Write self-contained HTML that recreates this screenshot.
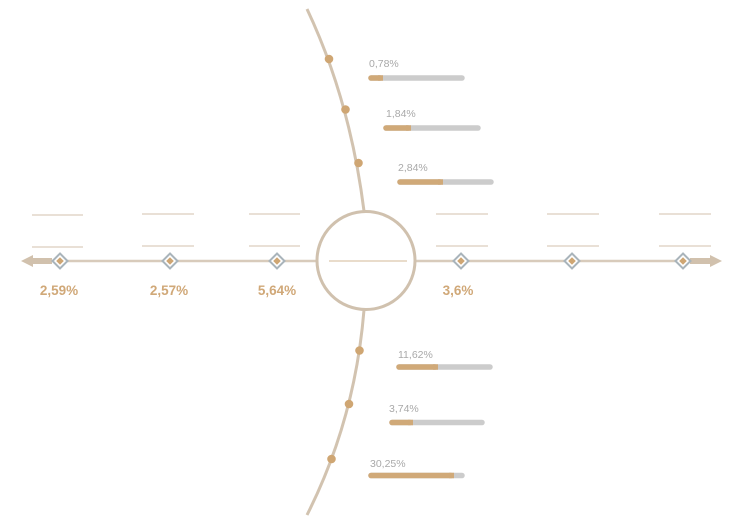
<!DOCTYPE html>
<html><head><meta charset="utf-8"><style>
html,body{margin:0;padding:0;background:#fff;}
svg{display:block;}
text{font-family:"Liberation Sans",sans-serif;}
</style></head><body>
<svg width="733" height="527" viewBox="0 0 733 527" xmlns="http://www.w3.org/2000/svg">
<!-- spine curves -->
<path d="M307,9 Q350,100 364,211" fill="none" stroke="#d2c3b0" stroke-width="3"/>
<path d="M364,310 Q355,420 307,515" fill="none" stroke="#d2c3b0" stroke-width="3"/>
<!-- horizontal axis -->
<line x1="40" y1="261" x2="316" y2="261" stroke="#d8cbbb" stroke-width="2.5"/>
<line x1="416" y1="261" x2="700" y2="261" stroke="#d8cbbb" stroke-width="2.5"/>
<!-- left arrow -->
<rect x="30" y="258" width="22" height="6" fill="#d1c1ad"/>
<polygon points="21,261 33,255 33,267" fill="#d1c1ad"/>
<!-- right arrow -->
<rect x="690" y="258" width="22" height="6" fill="#d1c1ad"/>
<polygon points="722,261 710,255 710,267" fill="#d1c1ad"/>
<!-- circle -->
<circle cx="366" cy="260.5" r="49" fill="#fff" stroke="#d0c1ae" stroke-width="3"/>
<line x1="329" y1="261" x2="407" y2="261" stroke="#dcc6ac" stroke-width="1.2"/>
<!-- placeholder lines -->
<g stroke="#dccdbd" stroke-width="1.2">
<line x1="32" y1="215" x2="83" y2="215"/><line x1="32" y1="247" x2="83" y2="247"/>
<line x1="142" y1="214" x2="194" y2="214"/><line x1="142" y1="246" x2="194" y2="246"/>
<line x1="249" y1="214" x2="300" y2="214"/><line x1="249" y1="246" x2="300" y2="246"/>
<line x1="436" y1="214" x2="488" y2="214"/><line x1="436" y1="246" x2="488" y2="246"/>
<line x1="547" y1="214" x2="599" y2="214"/><line x1="547" y1="246" x2="599" y2="246"/>
<line x1="659" y1="214" x2="711" y2="214"/><line x1="659" y1="246" x2="711" y2="246"/>
</g>
<!-- diamonds -->
<g>
<g transform="translate(60,261)"><polygon points="0,-7.5 7.5,0 0,7.5 -7.5,0" fill="#fff" stroke="#a9b4bb" stroke-width="2"/><polygon points="0,-3.8 3.8,0 0,3.8 -3.8,0" fill="#cfa673"/></g>
<g transform="translate(170,261)"><polygon points="0,-7.5 7.5,0 0,7.5 -7.5,0" fill="#fff" stroke="#a9b4bb" stroke-width="2"/><polygon points="0,-3.8 3.8,0 0,3.8 -3.8,0" fill="#cfa673"/></g>
<g transform="translate(277,261)"><polygon points="0,-7.5 7.5,0 0,7.5 -7.5,0" fill="#fff" stroke="#a9b4bb" stroke-width="2"/><polygon points="0,-3.8 3.8,0 0,3.8 -3.8,0" fill="#cfa673"/></g>
<g transform="translate(461,261)"><polygon points="0,-7.5 7.5,0 0,7.5 -7.5,0" fill="#fff" stroke="#a9b4bb" stroke-width="2"/><polygon points="0,-3.8 3.8,0 0,3.8 -3.8,0" fill="#cfa673"/></g>
<g transform="translate(572,261)"><polygon points="0,-7.5 7.5,0 0,7.5 -7.5,0" fill="#fff" stroke="#a9b4bb" stroke-width="2"/><polygon points="0,-3.8 3.8,0 0,3.8 -3.8,0" fill="#cfa673"/></g>
<g transform="translate(683,261)"><polygon points="0,-7.5 7.5,0 0,7.5 -7.5,0" fill="#fff" stroke="#a9b4bb" stroke-width="2"/><polygon points="0,-3.8 3.8,0 0,3.8 -3.8,0" fill="#cfa673"/></g>
</g>
<!-- axis labels -->
<g font-size="13.5" font-weight="bold" fill="#d0a878" text-anchor="middle">
<text x="59" y="295">2,59%</text>
<text x="169" y="295">2,57%</text>
<text x="277" y="295">5,64%</text>
<text x="458" y="295">3,6%</text>
</g>
<!-- dots on spine -->
<g fill="#cfa673">
<circle cx="329" cy="59" r="4.3"/>
<circle cx="345.5" cy="109.5" r="4.3"/>
<circle cx="358.5" cy="163" r="4.3"/>
<circle cx="359.5" cy="350.5" r="4.3"/>
<circle cx="349" cy="404" r="4.3"/>
<circle cx="331.5" cy="459" r="4.3"/>
</g>
<!-- bars -->
<g stroke-width="5.5">
<line x1="371" y1="78" x2="462" y2="78" stroke="#cccccc" stroke-linecap="round"/>
<line x1="371" y1="78" x2="380" y2="78" stroke="#d0a978" stroke-linecap="round"/><line x1="378" y1="78" x2="383" y2="78" stroke="#d0a978"/>
<line x1="386" y1="128" x2="478" y2="128" stroke="#cccccc" stroke-linecap="round"/>
<line x1="386" y1="128" x2="408" y2="128" stroke="#d0a978" stroke-linecap="round"/><line x1="406" y1="128" x2="411" y2="128" stroke="#d0a978"/>
<line x1="400" y1="182" x2="491" y2="182" stroke="#cccccc" stroke-linecap="round"/>
<line x1="400" y1="182" x2="440" y2="182" stroke="#d0a978" stroke-linecap="round"/><line x1="438" y1="182" x2="443" y2="182" stroke="#d0a978"/>
<line x1="399" y1="367" x2="490" y2="367" stroke="#cccccc" stroke-linecap="round"/>
<line x1="399" y1="367" x2="435" y2="367" stroke="#d0a978" stroke-linecap="round"/><line x1="433" y1="367" x2="438" y2="367" stroke="#d0a978"/>
<line x1="392" y1="422.5" x2="482" y2="422.5" stroke="#cccccc" stroke-linecap="round"/>
<line x1="392" y1="422.5" x2="410" y2="422.5" stroke="#d0a978" stroke-linecap="round"/><line x1="408" y1="422.5" x2="413" y2="422.5" stroke="#d0a978"/>
<line x1="371" y1="475.5" x2="462" y2="475.5" stroke="#cccccc" stroke-linecap="round"/>
<line x1="371" y1="475.5" x2="451" y2="475.5" stroke="#d0a978" stroke-linecap="round"/><line x1="449" y1="475.5" x2="454" y2="475.5" stroke="#d0a978"/>
</g>
<g font-size="10.5" fill="#a9a9a9">
<text x="369" y="67">0,78%</text>
<text x="386" y="117">1,84%</text>
<text x="398" y="171">2,84%</text>
<text x="398" y="358">11,62%</text>
<text x="389" y="412">3,74%</text>
<text x="370" y="467">30,25%</text>
</g>
</svg>
</body></html>
